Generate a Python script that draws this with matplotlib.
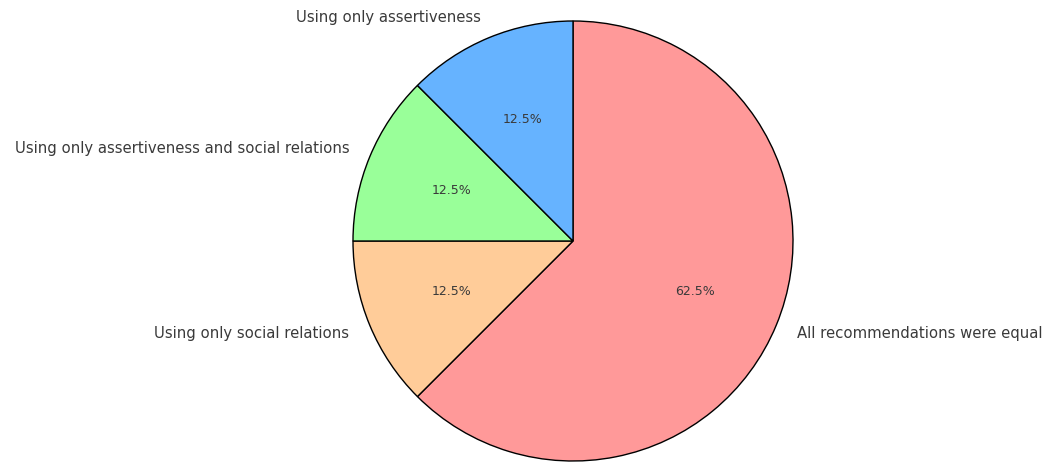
import matplotlib.pyplot as plt

labels = ['All recommendations were equal', 'Using only social relations',
          'Using only assertiveness and social relations', 'Using only assertiveness']
sizes = [62.5, 12.5, 12.5, 12.5]
colors = ['#ff9999', '#ffcc99', '#99ff99', '#66b3ff']

fig = plt.figure(figsize=(10.59, 4.63), dpi=100)
ax = fig.add_axes([353 / 1059, 2 / 463, 440 / 1059, 440 / 463])

wedges, texts, autotexts = ax.pie(sizes, labels=labels, colors=colors, autopct='%1.1f%%',
                                  startangle=90, counterclock=False,
                                  wedgeprops={'edgecolor': 'black', 'linewidth': 1},
                                  textprops={'color': '#3a3a3a'})
for t in texts:
    t.set_fontsize(10.7)
for t in autotexts:
    t.set_fontsize(9)

ax.set_xlim(-1, 1)
ax.set_ylim(-1, 1)
ax.set_aspect('equal')

plt.savefig('out.png')
